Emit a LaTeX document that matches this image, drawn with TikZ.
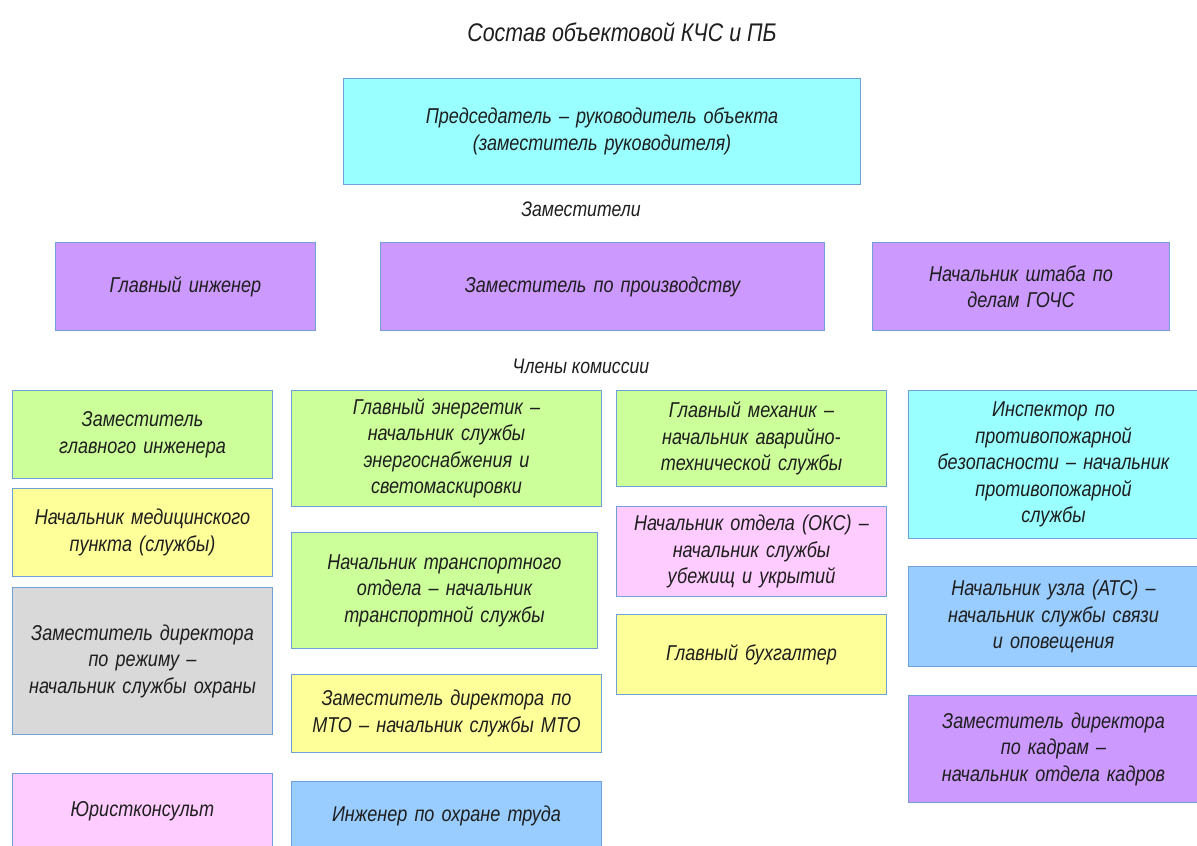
\documentclass[tikz,border=0pt]{standalone}
\usepackage{fontspec}
\setmainfont{Liberation Sans}[FakeStretch=0.84]
\usetikzlibrary{positioning}
\definecolor{cCyan}{HTML}{99FFFF}
\definecolor{cPurple}{HTML}{CC99FF}
\definecolor{cGreen}{HTML}{CCFF99}
\definecolor{cYellow}{HTML}{FFFF99}
\definecolor{cGray}{HTML}{D9D9D9}
\definecolor{cPink}{HTML}{FFCCFF}
\definecolor{cBlue}{HTML}{99CCFF}
\definecolor{cEdge}{HTML}{6FA0D8}
\definecolor{cText}{HTML}{1E1E1E}
\tikzset{
  bx/.style={draw=cEdge, line width=1pt, rectangle, anchor=north west, inner sep=2pt,
    align=center, text=cText, font=\fontsize{21.5}{26.5}\selectfont\itshape},
  lbl/.style={text=cText, font=\fontsize{21}{26}\selectfont\itshape, inner sep=0pt},
}
% \boxat{name}{fill}{left}{top}{right}{bottom}{text}
\newcommand{\boxat}[7]{%
  \pgfmathsetmacro{\bw}{#5-#3}\pgfmathsetmacro{\bh}{#6-#4}%
  \node[bx, fill=#2, minimum width=\bw pt, minimum height=\bh pt, text width=\bw pt-10pt] (#1) at (#3,#4) {#7};}
\begin{document}
\begin{tikzpicture}[x=1pt,y=-1pt]
\useasboundingbox (0,0) rectangle (1197,846);
\clip (0,0) rectangle (1197,846);
\node[lbl, font=\fontsize{25.5}{30}\selectfont\itshape] (title) at (622,32) {Состав объектовой КЧС и ПБ};
\boxat{pred}{cCyan}{343}{78}{860}{184}{Председатель – руководитель объекта\\(заместитель руководителя)}
\node[lbl] (zam) at (581,209) {Заместители};
\boxat{gi}{cPurple}{55}{242}{315}{330}{Главный инженер}
\boxat{zp}{cPurple}{380}{242}{824}{330}{Заместитель по производству}
\boxat{ns}{cPurple}{872}{242}{1169}{330}{Начальник штаба по\\делам ГОЧС}
\node[lbl] (chl) at (581,366) {Члены комиссии};
% column 1
\boxat{a1}{cGreen}{12}{390}{272}{478}{Заместитель\\главного инженера}
\boxat{a2}{cYellow}{12}{488}{272}{576}{Начальник медицинского\\пункта (службы)}
\boxat{a3}{cGray}{12}{587}{272}{734}{Заместитель директора\\по режиму –\\начальник службы охраны}
\boxat{a4}{cPink}{12}{773}{272}{849}{Юристконсульт}
% column 2
\boxat{b1}{cGreen}{291}{390}{601}{506}{Главный энергетик –\\начальник службы\\энергоснабжения и\\светомаскировки}
\boxat{b2}{cGreen}{291}{532}{597}{648}{Начальник транспортного\\отдела – начальник\\транспортной службы}
\boxat{b3}{cYellow}{291}{674}{601}{752}{Заместитель директора по\\МТО – начальник службы МТО}
\boxat{b4}{cBlue}{291}{781}{601}{850}{Инженер по охране труда}
% column 3
\boxat{c1}{cGreen}{616}{390}{886}{486}{Главный механик –\\начальник аварийно-\\технической службы}
\boxat{c2}{cPink}{616}{506}{886}{596}{Начальник отдела (ОКС) –\\начальник службы\\убежищ и укрытий}
\boxat{c3}{cYellow}{616}{614}{886}{694}{Главный бухгалтер}
% column 4
\boxat{d1}{cCyan}{908}{390}{1198}{538}{Инспектор по\\противопожарной\\безопасности – начальник\\противопожарной\\службы}
\boxat{d2}{cBlue}{908}{566}{1198}{666}{Начальник узла (АТС) –\\начальник службы связи\\и оповещения}
\boxat{d3}{cPurple}{908}{695}{1198}{802}{Заместитель директора\\по кадрам –\\начальник отдела кадров}
\end{tikzpicture}
\end{document}
